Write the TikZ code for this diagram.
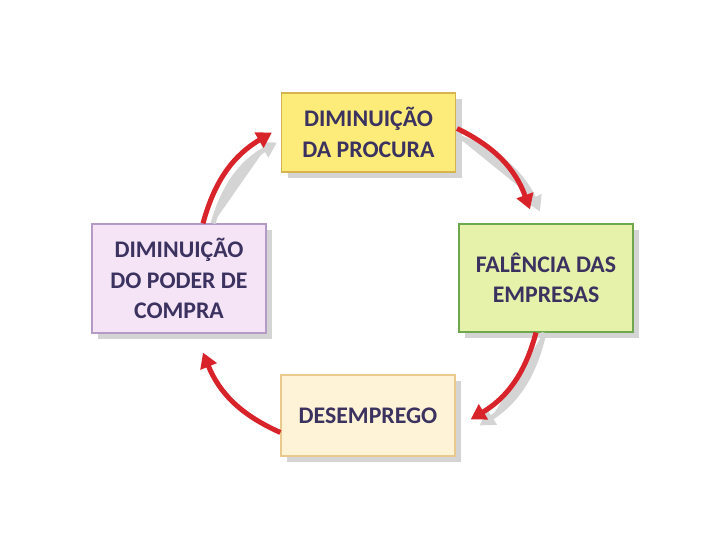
\documentclass[tikz,border=0pt]{standalone}
\usepackage{fontspec}
\setmainfont{Carlito}
\usetikzlibrary{arrows.meta,shadows}
\definecolor{txt}{HTML}{3B3260}
\definecolor{arr}{HTML}{D8232A}
\definecolor{shd}{HTML}{D4D4D4}
\definecolor{yfill}{HTML}{FDEB7A}
\definecolor{ydraw}{HTML}{D6B34E}
\definecolor{pfill}{HTML}{F4E4F6}
\definecolor{pdraw}{HTML}{B39BC6}
\definecolor{gfill}{HTML}{E6F2A9}
\definecolor{gdraw}{HTML}{6EA84E}
\definecolor{ofill}{HTML}{FFF3D7}
\definecolor{odraw}{HTML}{E9C98C}
\tikzset{
  box/.style={draw, line width=1.2pt, minimum width=174pt, align=center,
    font=\fontsize{23.8}{30.5}\selectfont\bfseries, text=txt,
    drop shadow={shadow xshift=6pt, shadow yshift=-6pt, fill=shd, opacity=1}},
  cyc/.style={line width=5pt, draw=arr, -{Triangle[length=15pt,width=17pt]}},
  cycshadow/.style={line width=5pt, draw=shd, -{Triangle[length=15pt,width=17pt]}, fill=shd},
}
\begin{document}
\begin{tikzpicture}[x=1pt,y=1pt]
\useasboundingbox (0,0) rectangle (720,540);
\node[box, fill=yfill, draw=ydraw, minimum height=79pt] (top) at (368.5,407.5) {DIMINUIÇÃO\\DA PROCURA};
\node[box, fill=pfill, draw=pdraw, minimum height=109pt] (left) at (179,261.5) {DIMINUIÇÃO\\DO PODER DE\\COMPRA};
\node[box, fill=gfill, draw=gdraw, minimum height=108pt] (right) at (546,262) {FALÊNCIA DAS\\EMPRESAS};
\node[box, fill=ofill, draw=odraw, minimum height=81pt] (bot) at (368,124.5) {DESEMPREGO};
% arrow shadows
\draw[cycshadow] ([xshift=34pt,yshift=0pt]left.north) to[bend left=22] ([xshift=-4pt,yshift=-10pt]top.west);
\draw[cycshadow] ([xshift=1pt,yshift=-4pt]top.east) to[bend left=22] ([xshift=-6pt,yshift=12pt]right.north);
\draw[cycshadow] ([xshift=-2pt,yshift=0pt]right.south) to[bend left=22] ([xshift=24pt,yshift=-10pt]bot.east);
% arrows
\draw[cyc] ([xshift=24pt]left.north) to[bend left=22] ([xshift=-9pt,yshift=0pt]top.west);
\draw[cyc] ([xshift=1pt,yshift=4pt]top.east) to[bend left=22] ([xshift=-16pt,yshift=14pt]right.north);
\draw[cyc] ([xshift=-10pt]right.south) to[bend left=22] ([xshift=15pt,yshift=-4pt]bot.east);
\draw[cyc] ([xshift=0pt,yshift=-17pt]bot.west) to[bend left=22] ([xshift=24pt,yshift=-19pt]left.south);
\end{tikzpicture}
\end{document}
